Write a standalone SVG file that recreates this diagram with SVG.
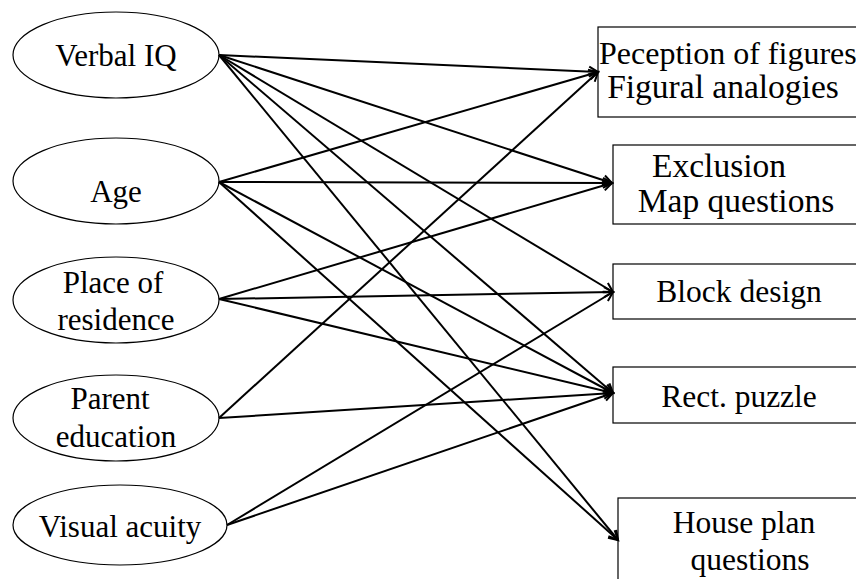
<svg xmlns="http://www.w3.org/2000/svg" width="856" height="579" viewBox="0 0 856 579">
<defs>
<style>
.n{fill:#fff;stroke:#000;stroke-width:1.2}
.t{font-family:"Liberation Serif","Times New Roman",serif;font-size:31px;fill:#000;text-anchor:middle}
.b{font-size:33.5px}
.m{font-size:31.5px}
.c line{stroke:#000;stroke-width:2;marker-end:url(#a)}
</style>
<marker id="a" markerUnits="userSpaceOnUse" markerWidth="14" markerHeight="14" refX="10" refY="6" orient="auto" viewBox="0 0 14 12">
<path d="M1,1 L10,6 L1,11" fill="none" stroke="#000" stroke-width="2"/>
</marker>
</defs>
<rect width="856" height="579" fill="#fff"/>
<g id="verbal"><ellipse class="n" cx="116" cy="55" rx="103" ry="43"/><text class="t" x="116" y="66">Verbal IQ</text></g>
<g id="age"><ellipse class="n" cx="116" cy="181" rx="103" ry="43"/><text class="t" x="116" y="202">Age</text></g>
<g id="place"><ellipse class="n" cx="116" cy="300" rx="103" ry="43"/><text class="t" x="113" y="293">Place of</text><text class="t" x="116" y="330">residence</text></g>
<g id="parent"><ellipse class="n" cx="116" cy="418" rx="103" ry="43"/><text class="t" x="110" y="409">Parent</text><text class="t" x="116" y="447">education</text></g>
<g id="visual"><ellipse class="n" cx="120" cy="525" rx="107" ry="40"/><text class="t" x="120" y="537">Visual acuity</text></g>
<g id="perception"><rect class="n" x="598" y="27" width="270" height="90"/><text class="t" x="599" y="64" style="text-anchor:start;font-size:32px">Peception of figures</text><text class="t b" x="723" y="98">Figural analogies</text></g>
<g id="exclusion"><rect class="n" x="613" y="145" width="260" height="79"/><text class="t b" x="719" y="177">Exclusion</text><text class="t b" x="736" y="212">Map questions</text></g>
<g id="block"><rect class="n" x="613" y="264" width="260" height="55"/><text class="t m" x="739" y="302">Block design</text></g>
<g id="rect"><rect class="n" x="613" y="367" width="260" height="56"/><text class="t m" x="739" y="407">Rect. puzzle</text></g>
<g id="house"><rect class="n" x="618" y="498" width="260" height="100"/><text class="t m" x="744" y="533">House plan</text><text class="t m" x="750" y="570">questions</text></g>
<g id="connectors" class="c">
<line x1="219" y1="55" x2="598" y2="72"/>
<line x1="219" y1="55" x2="612" y2="183"/>
<line x1="219" y1="55" x2="613" y2="292"/>
<line x1="219" y1="55" x2="613" y2="393"/>
<line x1="219" y1="55" x2="618" y2="540"/>
<line x1="219" y1="182" x2="598" y2="72"/>
<line x1="219" y1="182" x2="612" y2="183"/>
<line x1="219" y1="182" x2="613" y2="393"/>
<line x1="219" y1="182" x2="618" y2="540"/>
<line x1="219" y1="299" x2="612" y2="183"/>
<line x1="219" y1="299" x2="613" y2="292"/>
<line x1="219" y1="299" x2="613" y2="393"/>
<line x1="219" y1="418" x2="598" y2="72"/>
<line x1="219" y1="418" x2="613" y2="393"/>
<line x1="227" y1="525" x2="613" y2="292"/>
<line x1="227" y1="525" x2="613" y2="393"/>
</g>
</svg>
